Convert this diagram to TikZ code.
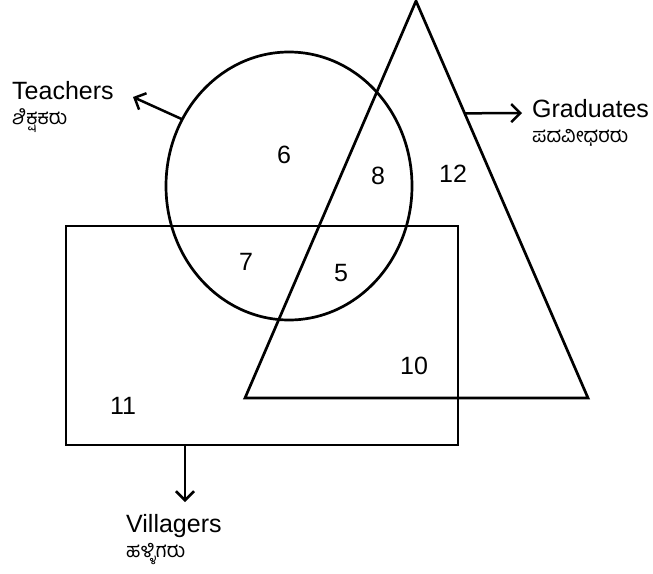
\documentclass[tikz,border=0pt]{standalone}
\usepackage{fontspec}
\setmainfont{Liberation Sans}
\newfontfamily\kanfont[Script=Kannada]{Hind Mysuru}
\usetikzlibrary{shapes.geometric,arrows.meta,calc}
\begin{document}
\begin{tikzpicture}[
  x=1pt, y=-1pt,
  linea/.style={draw=black, line width=2.7pt, line join=miter},
  flecha/.style={black, line width=2.5pt, -{Straight Barb[length=9pt,width=18pt,line width=2.5pt]}},
  numero/.style={font=\fontsize{25}{28}\selectfont, inner sep=0pt},
  rotulo/.style={font=\fontsize{25}{29}\selectfont, anchor=base west, inner sep=0pt},
  kannada/.style={font=\kanfont\fontsize{20}{23}\selectfont, anchor=base west, inner sep=0pt}
]
\useasboundingbox (0,0) rectangle (653,573);
% conjuntos
\node[linea, ellipse, minimum width=246pt, minimum height=268pt, inner sep=0pt, outer sep=0pt] (maestros) at (289,186) {};
\coordinate (cima) at (416,1);
\coordinate (baseizq) at (245,398);
\coordinate (baseder) at (588,398);
\draw[linea] (cima) -- (baseder) -- (baseizq) -- cycle;
\node[linea, rectangle, minimum width=392pt, minimum height=219pt, inner sep=0pt, outer sep=0pt] (aldea) at (262,335.5) {};
% rotulos
\node[rotulo] (teach) at (12,99) {Teachers};
\node[kannada] (teachk) at (12,124) {ಶಿಕ್ಷಕರು};
\node[rotulo] (grad) at (532,117) {Graduates};
\node[kannada] (gradk) at (532,142) {ಪದವೀಧರರು};
\node[rotulo] (vill) at (126,532) {Villagers};
\node[kannada] (villk) at (126,557) {ಹಳ್ಳಿಗರು};
% flechas
\coordinate (t1) at (133,97);
\coordinate (g0) at ($(cima)!0.283!(baseder)$);
\coordinate (g1) at (522,113);
\coordinate (v0) at (185,445);
\coordinate (v1) at (185,502);
\draw[flecha] (maestros.148) -- (t1);
\draw[flecha] (g0) -- (g1);
\draw[flecha] (v0) -- (v1);
% numeros
\node[numero] (n6) at (284,155) {6};
\node[numero] (n8) at (378,176) {8};
\node[numero] (n12) at (453,174) {12};
\node[numero] (n7) at (246,262) {7};
\node[numero] (n5) at (341,273) {5};
\node[numero] (n10) at (414,366) {10};
\node[numero] (n11) at (123,406) {11};
\end{tikzpicture}
\end{document}
